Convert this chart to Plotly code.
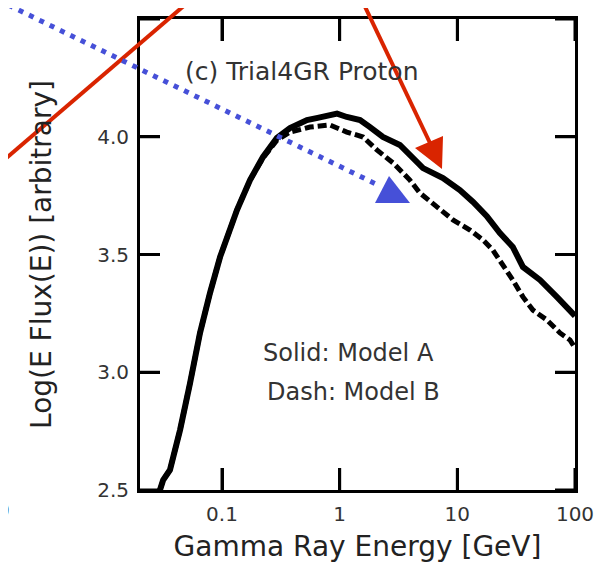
import plotly.graph_objects as go

# ---- data ----
energy_a = [0.0297, 0.0316, 0.0361, 0.0440, 0.0535, 0.0650, 0.0791, 0.0962, 0.134, 0.173,
            0.223, 0.293, 0.378, 0.527, 0.650, 0.828, 0.95, 1.15, 1.49, 1.81, 2.33, 3.25,
            4.20, 5.11, 7.55, 10.5, 13.6, 17.8, 23.0, 29.6, 36.1, 50.4, 70.1, 85.3, 100]
flux_a = [2.500, 2.542, 2.585, 2.755, 2.954, 3.167, 3.337, 3.489, 3.689, 3.816,
          3.914, 3.995, 4.037, 4.071, 4.080, 4.092, 4.098, 4.084, 4.071, 4.041, 3.999, 3.965,
          3.914, 3.867, 3.825, 3.774, 3.723, 3.663, 3.591, 3.532, 3.447, 3.392, 3.320, 3.277, 3.239]

energy_b = [0.0297, 0.0316, 0.0361, 0.0440, 0.0535, 0.0650, 0.0791, 0.0962, 0.134, 0.173,
            0.223, 0.293, 0.378, 0.560, 0.828, 1.15, 1.58, 2.07, 2.84, 3.95, 4.81, 6.71,
            9.18, 12.8, 16.5, 20.0, 24.4, 29.6, 36.1, 43.9, 57.7, 74.5, 90.6, 100]
flux_b = [2.500, 2.542, 2.585, 2.755, 2.954, 3.167, 3.337, 3.489, 3.689, 3.816,
          3.910, 3.985, 4.020, 4.041, 4.050, 4.020, 3.999, 3.944, 3.889, 3.816, 3.761, 3.702,
          3.647, 3.604, 3.562, 3.519, 3.456, 3.392, 3.320, 3.264, 3.222, 3.167, 3.137, 3.103]

x_tickvals = [0.1, 1, 10, 100]
x_ticktext = ["0.1", "1", "10", "100"]
y_tickvals = [2.5, 3.0, 3.5, 4.0, 4.5]
y_ticktext = ["2.5", "3.0", "3.5", "4.0", "4.5"]

X_RANGE = [-1.697, 2.0]   # log10 of the energy range
Y_RANGE = [2.5, 4.5]

OFF = 8  # default page body margin
W, H = 603 - OFF, 565 - OFF
ML, MR, MT, MB = 140 - OFF, 28, 19 - OFF, 75
PW, PH = W - ML - MR, H - MT - MB


def px(xp):
    """page pixel x -> paper fraction"""
    return (xp - OFF - ML) / PW


def py(yp):
    """page pixel y -> paper fraction"""
    return (H - MB - (yp - OFF)) / PH


FONT = "DejaVu Sans, Verdana, sans-serif"
TXT = "#333333"
RED = "#D92400"
BLUE = "#4650D8"
XTICK_LEN = 22   # px
YTICK_LEN = 20   # px
TICK_W = 3

fig = go.Figure()
fig.add_trace(go.Scatter(x=energy_a, y=flux_a, mode="lines", name="Model A",
                         line=dict(color="black", width=6)))
fig.add_trace(go.Scatter(x=energy_b, y=flux_b, mode="lines", name="Model B",
                         line=dict(color="black", width=5, dash="9px,4px")))

# inside tick marks on all four edges, drawn as one line trace from the tick lists
dy = XTICK_LEN / PH * (Y_RANGE[1] - Y_RANGE[0])
dxl = YTICK_LEN / PW * (X_RANGE[1] - X_RANGE[0])   # in decades
x_lo, x_hi = 10 ** X_RANGE[0], 10 ** X_RANGE[1]
x_lo_in, x_hi_in = 10 ** (X_RANGE[0] + dxl), 10 ** (X_RANGE[1] - dxl)
tx, ty = [], []
for v in x_tickvals:
    tx += [v, v, None, v, v, None]
    ty += [Y_RANGE[0], Y_RANGE[0] + dy, None, Y_RANGE[1], Y_RANGE[1] - dy, None]
for v in y_tickvals:
    tx += [x_lo, x_lo_in, None, x_hi, x_hi_in, None]
    ty += [v, v, None, v, v, None]
fig.add_trace(go.Scatter(x=tx, y=ty, mode="lines", hoverinfo="skip", showlegend=False,
                         connectgaps=False,
                         line=dict(color="#000000", width=TICK_W)))

shapes = [
    dict(type="line", xref="paper", yref="paper", x0=px(-10), y0=py(172), x1=px(200), y1=py(-8),
         line=dict(color=RED, width=4)),
    dict(type="line", xref="paper", yref="paper", x0=px(358), y0=py(-8), x1=px(430), y1=py(143),
         line=dict(color=RED, width=4)),
    dict(type="path", xref="paper", yref="paper",
         path=f"M {px(415)},{py(148)} L {px(443)},{py(136)} L {px(442)},{py(169)} Z",
         fillcolor=RED, line=dict(color=RED, width=0)),
    dict(type="line", xref="paper", yref="paper", x0=px(-2), y0=py(0), x1=px(376), y1=py(184),
         line=dict(color=BLUE, width=5, dash="5px,6.5px")),
    dict(type="path", xref="paper", yref="paper",
         path=f"M {px(375)},{py(203)} L {px(410)},{py(203)} L {px(389)},{py(176)} Z",
         fillcolor=BLUE, line=dict(color=BLUE, width=0)),
]

annotations = [
    dict(text="(c) Trial4GR Proton", xref="paper", yref="paper", x=px(301), y=py(72),
         xanchor="center", yanchor="middle",
         showarrow=False, font=dict(family=FONT, size=25, color=TXT)),
    dict(text="Solid: Model A", xref="paper", yref="paper", x=px(348), y=py(353),
         xanchor="center", yanchor="middle",
         showarrow=False, font=dict(family=FONT, size=24, color=TXT)),
    dict(text="Dash: Model B", xref="paper", yref="paper", x=px(353), y=py(392),
         xanchor="center", yanchor="middle",
         showarrow=False, font=dict(family=FONT, size=24, color=TXT)),
    dict(text="0", xref="paper", yref="paper", x=px(12), y=py(510), xanchor="right",
         yanchor="middle",
         showarrow=False, font=dict(family=FONT, size=20, color=TXT)),
]

fig.update_layout(
    width=W, height=H,
    margin=dict(l=ML, r=MR, t=MT, b=MB, pad=0, autoexpand=False),
    paper_bgcolor="white", plot_bgcolor="white",
    showlegend=False,
    font=dict(family=FONT, color=TXT),
    shapes=shapes,
    annotations=annotations,
    xaxis=dict(type="log", range=X_RANGE, automargin=False,
               tickmode="array", tickvals=x_tickvals, ticktext=x_ticktext,
               ticks="inside", ticklen=XTICK_LEN, tickwidth=TICK_W, tickcolor="#000000",
               ticklabelstandoff=4,
               showline=True, linewidth=3, linecolor="black", mirror="ticks",
               showgrid=False, zeroline=False,
               tickfont=dict(family=FONT, size=20, color=TXT),
               title=dict(text="Gamma Ray Energy [GeV]", font=dict(family=FONT, size=28, color="#222222"),
                          standoff=12)),
    yaxis=dict(range=Y_RANGE, automargin=False,
               tickmode="array", tickvals=y_tickvals, ticktext=y_ticktext,
               ticks="inside", ticklen=YTICK_LEN, tickwidth=TICK_W, tickcolor="#000000",
               ticklabelstandoff=4,
               showline=True, linewidth=3, linecolor="black", mirror="ticks",
               showgrid=False, zeroline=False,
               tickfont=dict(family=FONT, size=20, color=TXT),
               title=dict(text="Log(E Flux(E)) [arbitrary]", font=dict(family=FONT, size=28, color="#222222"),
                          standoff=38)),
)

fig.write_html("out.html")
